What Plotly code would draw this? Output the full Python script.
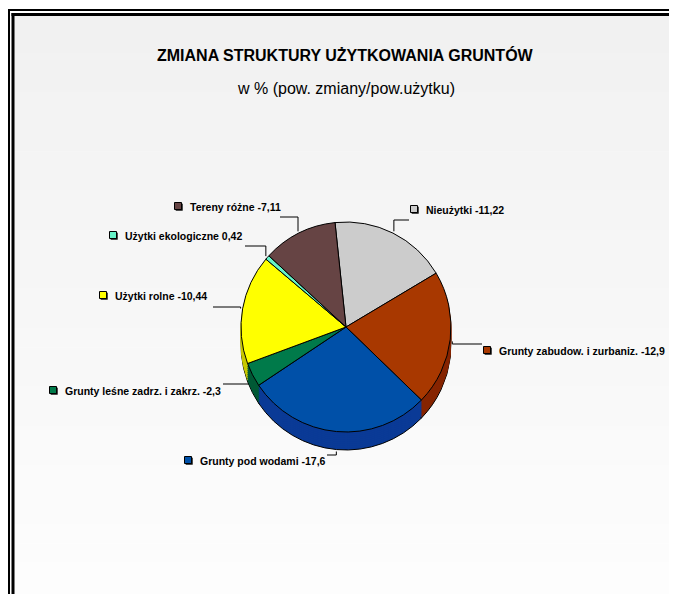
import math
import plotly.graph_objects as go

# ---------------- data ----------------
categories = [
    "Nieużytki",
    "Grunty zabudow. i zurbaniz.",
    "Grunty pod wodami",
    "Grunty leśne zadrz. i zakrz.",
    "Użytki rolne",
    "Użytki ekologiczne",
    "Tereny różne",
]
change_pct = [-11.22, -12.9, -17.6, -2.3, -10.44, 0.42, -7.11]
slice_colors = ["#CCCCCC", "#A83800", "#0050A8", "#007A4A", "#FFFF00", "#66F2C8", "#664444"]
side_colors = ["#9E9E9E", "#862400", "#0A3A96", "#005A36", "#C8C800", "#44C8A0", "#4A3030"]

title_text = "ZMIANA STRUKTURY UŻYTKOWANIA GRUNTÓW"
subtitle_text = "w % (pow. zmiany/pow.użytku)"

# ---------------- layout constants (page pixel coordinates) ----------------
W, H = 677, 594          # browser window
OFF = 8                  # page body margin: figure origin sits at (8, 8)
FW, FH = W, H
CX, CY, R = 346, 327, 105
DEPTH = 18
ROTATION = -6

label_text_x = [424, 497, 198, 63, 113, 123, 188]
label_y = [210, 351, 461, 391, 296, 236, 207]
leader_y = [220, 344, 455, 384, 307, 246, 217]
leader_end_x = [409, 482, 327, 223, 213, 245, 280]

FONT = "Liberation Sans, Arial, sans-serif"


def fmt(v):
    return ("%g" % v).replace(".", ",")


sizes = [abs(v) for v in change_pct]
labels = [f"{c} {fmt(v)}" for c, v in zip(categories, change_pct)]


def pie_domain(cx, cy, r):
    cx -= OFF
    cy -= OFF
    return dict(x=[(cx - r) / FW, (cx + r) / FW], y=[1 - (cy + r) / FH, 1 - (cy - r) / FH])


fig = go.Figure()

# overlay pixel axes (data coordinates == page pixels)
fig.update_layout(
    xaxis=dict(range=[OFF, FW + OFF], visible=False, fixedrange=True, domain=[0, 1]),
    yaxis=dict(range=[FH + OFF, OFF], visible=False, fixedrange=True, domain=[0, 1]),
)

# ---------------- background & frame ----------------
shapes = []
n_bands = 30
top_y, bot_y = 14, H + OFF
for i in range(n_bands):
    y0 = top_y + (bot_y - top_y) * i / n_bands
    y1 = top_y + (bot_y - top_y) * (i + 1) / n_bands + 0.5
    g = int(round(241 + (253 - 241) * i / (n_bands - 1)))
    shapes.append(dict(type="rect", xref="x", yref="y", x0=14, x1=W + OFF + 5, y0=y0, y1=y1,
                       fillcolor=f"rgb({g},{g},{g})", line=dict(width=0), layer="below"))
# outer thin frame (left + top)
shapes.append(dict(type="line", xref="x", yref="y", x0=9, y0=10, x1=9, y1=H + 30,
                   line=dict(color="black", width=2), layer="below"))
shapes.append(dict(type="line", xref="x", yref="y", x0=8, y0=10, x1=W + 30, y1=10,
                   line=dict(color="black", width=2), layer="below"))
# inner thick frame (left + top)
shapes.append(dict(type="line", xref="x", yref="y", x0=13, y0=13, x1=13, y1=H + 30,
                   line=dict(color="black", width=3), layer="below"))
shapes.append(dict(type="line", xref="x", yref="y", x0=11.5, y0=14.5, x1=W + 30, y1=14.5,
                   line=dict(color="black", width=3), layer="below"))

# ---------------- pie: depth layers then top face ----------------
for off in range(DEPTH, 0, -2):
    bottom = off == DEPTH
    fig.add_trace(go.Pie(
        values=sizes, labels=categories, sort=False, direction="clockwise",
        rotation=ROTATION, textinfo="none", hoverinfo="skip", showlegend=False,
        marker=dict(colors=side_colors,
                    line=dict(color="black" if bottom else side_colors, width=1)),
        domain=pie_domain(CX, CY + off, R),
    ))

fig.add_trace(go.Pie(
    values=sizes, labels=categories, sort=False, direction="clockwise",
    rotation=ROTATION, textinfo="none", hovertext=labels, hoverinfo="text",
    showlegend=False,
    marker=dict(colors=slice_colors, line=dict(color="black", width=1)),
    domain=pie_domain(CX, CY, R),
))

# ---------------- leader lines ----------------
total = sum(sizes)
cum = 0.0
lx, ly = [], []
for i, s in enumerate(sizes):
    mid = math.radians(ROTATION + 360.0 * (cum + s / 2) / total)
    cum += s
    ax = CX + (R + 2) * math.sin(mid)
    ay = CY - (R + 2) * math.cos(mid) + DEPTH * max(0.0, -math.cos(mid))
    lx += [ax, ax, leader_end_x[i], None]
    ly += [ay, leader_y[i], leader_y[i], None]
fig.add_trace(go.Scatter(x=lx, y=ly, mode="lines", line=dict(color="black", width=1),
                         hoverinfo="skip", showlegend=False))

# ---------------- label keys (squares) ----------------
sq_x = [x - 10 for x in label_text_x]
sq_y = [y - 1 for y in label_y]
fig.add_trace(go.Scatter(x=[x + 1.2 for x in sq_x], y=[y + 1.2 for y in sq_y], mode="markers",
                         marker=dict(symbol="square", size=7, color="black"),
                         hoverinfo="skip", showlegend=False))
fig.add_trace(go.Scatter(x=sq_x, y=sq_y, mode="markers",
                         marker=dict(symbol="square", size=7, color=slice_colors,
                                     line=dict(color="black", width=1)),
                         hoverinfo="skip", showlegend=False))

# ---------------- annotations ----------------
annotations = [
    dict(text=f"<b>{title_text}</b>", x=345, y=55, xref="x", yref="y", showarrow=False,
         font=dict(family=FONT, size=16, color="black"), xanchor="center", yanchor="middle"),
    dict(text=subtitle_text, x=346, y=88, xref="x", yref="y", showarrow=False,
         font=dict(family=FONT, size=16, color="black"), xanchor="center", yanchor="middle"),
]
for t, x, y in zip(labels, label_text_x, label_y):
    annotations.append(dict(text=f"<b>{t}</b>", x=x, y=y, xref="x", yref="y", showarrow=False,
                            xanchor="left", yanchor="middle",
                            font=dict(family=FONT, size=10.5, color="black")))

fig.update_layout(
    width=FW, height=FH, autosize=False,
    margin=dict(l=0, r=0, t=0, b=0, pad=0),
    paper_bgcolor="white", plot_bgcolor="rgba(0,0,0,0)",
    shapes=shapes, annotations=annotations, showlegend=False,
)

fig.write_html("out.html")
